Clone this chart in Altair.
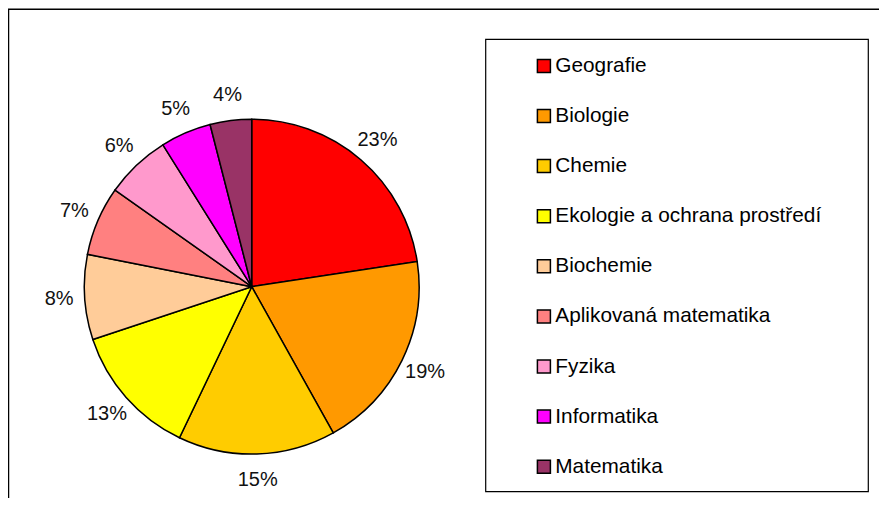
import altair as alt
import pandas as pd

categories = ["Geografie", "Biologie", "Chemie", "Ekologie a ochrana prostředí",
              "Biochemie", "Aplikovaná matematika", "Fyzika", "Informatika", "Matematika"]
values = [22.6, 19.3, 15.2, 12.8, 8.2, 6.7, 6.3, 4.9, 4.0]
labels = ["23%", "19%", "15%", "13%", "8%", "7%", "6%", "5%", "4%"]
colors = ["#FF0000", "#FF9900", "#FFCC00", "#FFFF00", "#FFCC99",
          "#FF8080", "#FF99CC", "#FF00FF", "#993366"]

df = pd.DataFrame({"obor": categories, "podil": values, "popis": labels,
                   "poradi": list(range(len(categories)))})

CX, CY = 243.7, 278.7
R = 167.4
RL = 193

base = alt.Chart(df).encode(
    theta=alt.Theta("podil:Q", stack=True),
    order=alt.Order("poradi:Q"),
)

pie = base.mark_arc(radius=R, stroke="black", strokeWidth=1.5).encode(
    x=alt.value(CX), y=alt.value(CY),
    color=alt.Color("obor:N",
                    scale=alt.Scale(domain=categories, range=colors),
                    sort=categories,
                    legend=alt.Legend(
                        title=None, orient="none", legendX=525.5, legendY=47.5,
                        symbolType="square", symbolSize=169,
                        symbolStrokeColor="black", symbolStrokeWidth=1.5,
                        labelFont="Liberation Sans", labelFontSize=20.8,
                        labelColor="black", labelOffset=1, labelLimit=400,
                        rowPadding=28.1, padding=0)),
)

text = base.mark_text(radius=RL, font="Liberation Sans", fontSize=20,
                      color="#111111", align="center", baseline="middle").encode(
    x=alt.value(CX), y=alt.value(CY),
    text="popis:N",
)

one = alt.Data(values=[{"a": 1}])
legend_box = alt.Chart(one).mark_rect(filled=False, stroke="black", strokeWidth=1.2).encode(
    x=alt.value(477.7), x2=alt.value(860.3), y=alt.value(31.3), y2=alt.value(483.7))
top_rule = alt.Chart(one).mark_rule(color="black", strokeWidth=1.5).encode(
    x=alt.value(0), x2=alt.value(879), y=alt.value(1.2))
left_rule = alt.Chart(one).mark_rule(color="black", strokeWidth=1.5).encode(
    x=alt.value(0.5), y=alt.value(1), y2=alt.value(498))

chart = alt.layer(top_rule, left_rule, legend_box, pie, text).properties(
    width=871, height=490,
    autosize=alt.AutoSizeParams(type="none"),
    padding=0,
).configure_view(stroke=None)

chart.save("out.html", embed_options={"renderer": "svg", "actions": False})
